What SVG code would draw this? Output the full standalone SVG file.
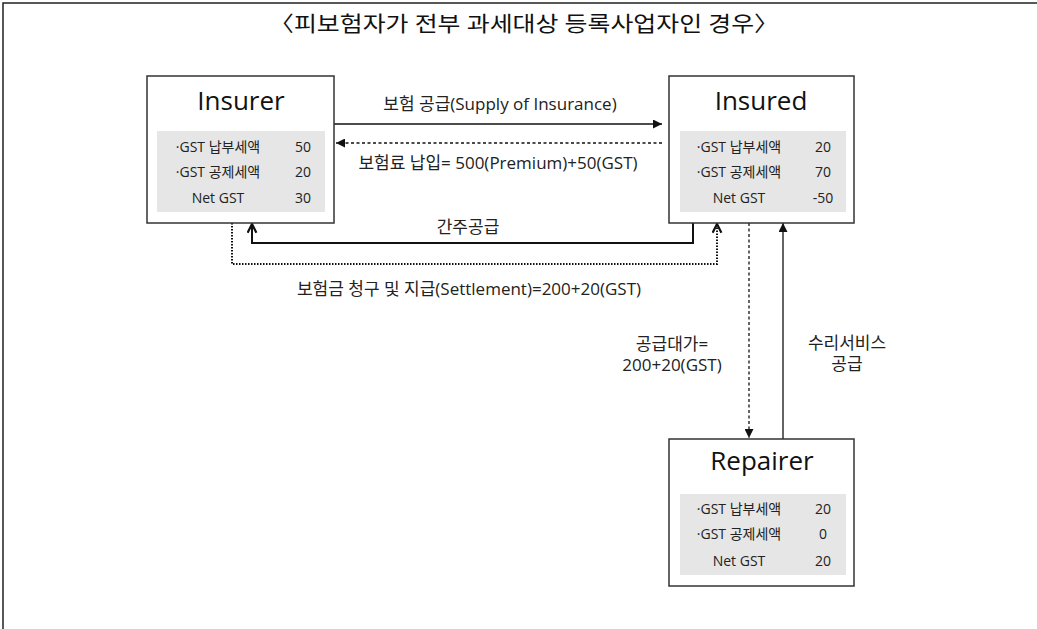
<svg xmlns="http://www.w3.org/2000/svg" width="1037" height="629" viewBox="0 0 1037 629">
<style>
.box{fill:#fff;stroke:#333;stroke-width:1.5}
.panel{fill:#e6e6e6;stroke:none}
.ttl{font-family:"Open Sans","Noto Sans CJK KR",sans-serif;font-size:26px;fill:#111;text-anchor:middle}
.row{font-family:"Open Sans","Noto Sans CJK KR",sans-serif;font-size:14px;fill:#222;text-anchor:middle;dominant-baseline:central}
.lbl{font-family:"Open Sans","Noto Sans CJK KR",sans-serif;font-size:17px;fill:#222;text-anchor:middle;dominant-baseline:central}
.head{font-family:"Liberation Serif","Noto Sans CJK KR",serif;font-size:21px;fill:#111;text-anchor:middle;dominant-baseline:central}
.ln{fill:none;stroke:#111;stroke-width:1.3}
</style>
<defs>
<marker id="tri" viewBox="0 0 10 10" refX="10" refY="5" markerWidth="9" markerHeight="9" markerUnits="userSpaceOnUse" orient="auto">
<path d="M0,0 L10,5 L0,10 Z" fill="#111"/>
</marker>
<marker id="chev" viewBox="0 0 10 10" refX="9" refY="5" markerWidth="11" markerHeight="11" markerUnits="userSpaceOnUse" orient="auto">
<path d="M1,1 L9,5 L1,9" fill="none" stroke="#111" stroke-width="2"/>
</marker>
</defs>
<rect width="1037" height="629" fill="#fff"/>
<path d="M3,629 L3,3 L1037,3" fill="none" stroke="#222" stroke-width="1.5"/>
<text class="head" x="524" y="24" textLength="510" lengthAdjust="spacingAndGlyphs">〈피보험자가 전부 과세대상 등록사업자인 경우〉</text>

<g id="connectors">
<line class="ln" x1="334" y1="124" x2="662" y2="124" marker-end="url(#tri)"/>
<line class="ln" x1="662" y1="143" x2="336" y2="143" stroke-dasharray="3 2.5" marker-end="url(#tri)"/>
<path d="M693,222 L693,243 L252,243 L252,224" fill="none" stroke="#111" stroke-width="2" marker-end="url(#chev)"/>
<path d="M232,223 L232,264 L717,264 L717,224" fill="none" stroke="#111" stroke-width="2" stroke-dasharray="1.5 1.5" marker-end="url(#chev)"/>
<line class="ln" x1="749" y1="223" x2="749" y2="438" stroke-dasharray="3 2.5" marker-end="url(#tri)"/>
<line class="ln" x1="783" y1="439" x2="783" y2="223" marker-end="url(#tri)"/>
<text class="lbl" x="500" y="103">보험 공급(Supply of Insurance)</text>
<text class="lbl" x="498" y="162">보험료 납입= 500(Premium)+50(GST)</text>
<text class="lbl" x="468" y="226">간주공급</text>
<text class="lbl" x="469" y="288">보험금 청구 및 지급(Settlement)=200+20(GST)</text>
<text class="lbl" x="672" y="343">공급대가=</text>
<text class="lbl" x="672" y="364">200+20(GST)</text>
<text class="lbl" x="847" y="342">수리서비스</text>
<text class="lbl" x="847" y="363">공급</text>
</g>

<g id="insurer">
<rect class="box" x="147" y="76" width="187" height="147"/>
<rect class="panel" x="157" y="131" width="168" height="81"/>
<text class="ttl" x="241" y="110">Insurer</text>
<text class="row" x="218" y="146">·GST 납부세액</text><text class="row" x="303" y="146">50</text>
<text class="row" x="218" y="171">·GST 공제세액</text><text class="row" x="303" y="171">20</text>
<text class="row" x="218" y="197">Net GST</text><text class="row" x="303" y="197">30</text>
</g>

<g id="insured">
<rect class="box" x="669" y="76" width="185" height="147"/>
<rect class="panel" x="680" y="131" width="166" height="81"/>
<text class="ttl" x="761" y="110">Insured</text>
<text class="row" x="739" y="146">·GST 납부세액</text><text class="row" x="823" y="146">20</text>
<text class="row" x="739" y="171">·GST 공제세액</text><text class="row" x="823" y="171">70</text>
<text class="row" x="739" y="197">Net GST</text><text class="row" x="823" y="197">-50</text>
</g>

<g id="repairer">
<rect class="box" x="669" y="439" width="185" height="147"/>
<rect class="panel" x="680" y="494" width="166" height="81"/>
<text class="ttl" x="762" y="470">Repairer</text>
<text class="row" x="739" y="508">·GST 납부세액</text><text class="row" x="823" y="508">20</text>
<text class="row" x="739" y="533">·GST 공제세액</text><text class="row" x="823" y="533">0</text>
<text class="row" x="739" y="560">Net GST</text><text class="row" x="823" y="560">20</text>
</g>
</svg>
